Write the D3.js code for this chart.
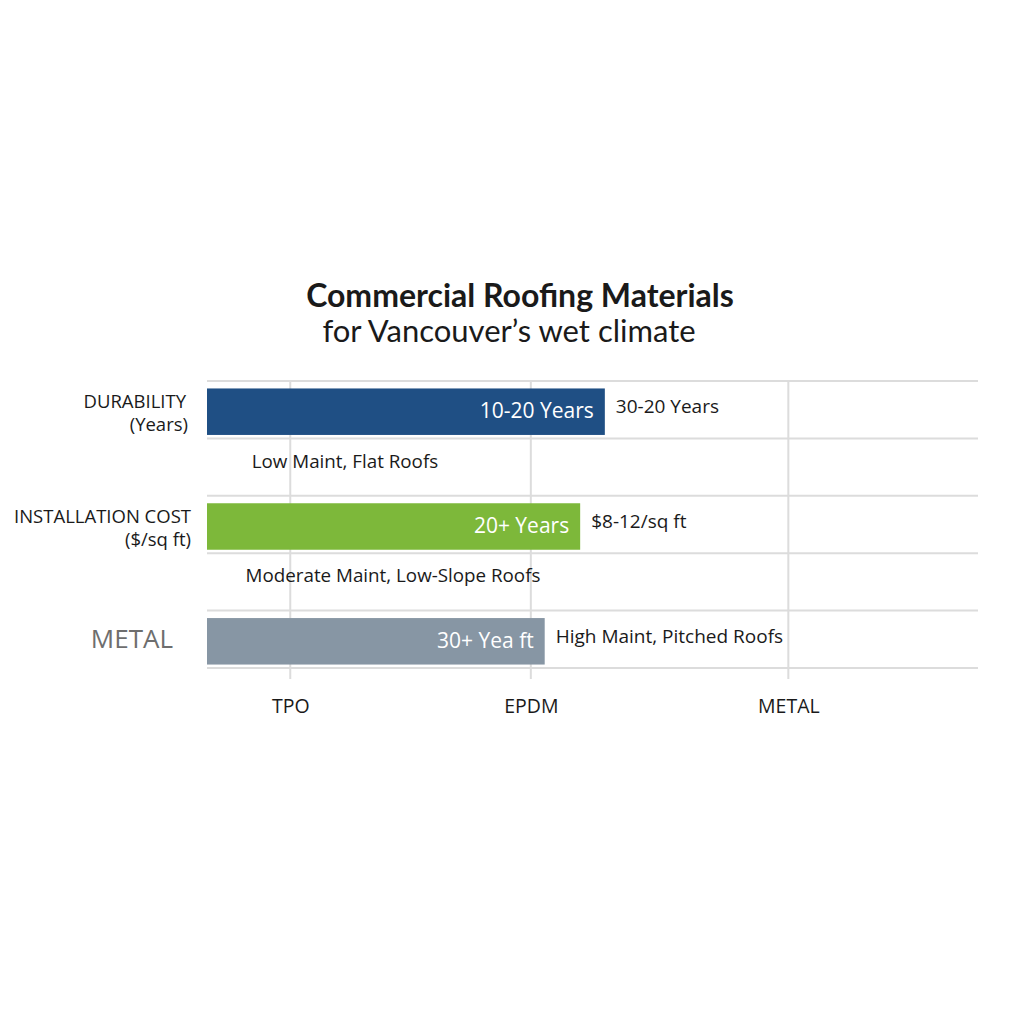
<!DOCTYPE html>
<html><head><meta charset="utf-8">
<script src="https://cdn.jsdelivr.net/npm/d3@7"></script>
<style>body{margin:0;background:#fff;} svg{display:block;}</style>
</head><body>
<svg id="c" width="1024" height="1024"></svg>
<script>
// Data
const rowKeys = ["durability", "note1", "cost", "note2", "metal"];
const barRows = ["durability", "cost", "metal"];
const barValues = [51.6, 48.4, 43.8];
const barColors = ["#1f4f84", "#7db83a", "#8796a4"];
const insideLabels = ["10-20 Years", "20+ Years", "30+ Yea ft"];
const outsideLabels = ["30-20 Years", "$8-12/sq ft", "High Maint, Pitched Roofs"];
const noteRows = ["note1", "note2"];
const noteLabels = ["Low Maint, Flat Roofs", "Moderate Maint, Low-Slope Roofs"];
const noteOffsets = [5.8, 5.0];
const tickLabels = ["TPO", "EPDM", "METAL"];
const tickValues = [10.8, 42.0, 75.4];

const svg = d3.select("#c");
const x = d3.scaleLinear().domain([0, 100]).range([207, 978]);
const y = d3.scaleBand().domain(rowKeys).range([381, 668]);
const bh = y.bandwidth() * 0.81;

// title
svg.append("text").attr("x", 520).attr("y", 307).attr("text-anchor", "middle")
  .attr("font-family", "Lato, 'Open Sans', sans-serif").attr("font-weight", 700)
  .attr("font-size", 32).attr("fill", "#1a1a1a").text("Commercial Roofing Materials");
svg.append("text").attr("x", 509).attr("y", 342).attr("text-anchor", "middle")
  .attr("font-family", "Lato, 'Open Sans', sans-serif")
  .attr("font-size", 31).attr("fill", "#1a1a1a").text("for Vancouver\u2019s wet climate");

// horizontal grid
const hLines = rowKeys.map(k => y(k)).concat([y.range()[1]]);
svg.append("g").selectAll("line").data(hLines).join("line")
  .attr("x1", x(0)).attr("x2", x(100)).attr("y1", d => d).attr("y2", d => d)
  .attr("stroke", "#dcdcdc").attr("stroke-width", 2);

// vertical grid
svg.append("g").selectAll("line").data(tickValues).join("line")
  .attr("x1", d => x(d)).attr("x2", d => x(d)).attr("y1", 381).attr("y2", 679)
  .attr("stroke", "#dcdcdc").attr("stroke-width", 2);

// bars
const bars = barRows.map((r, i) => ({r, v: barValues[i], c: barColors[i], inL: insideLabels[i], outL: outsideLabels[i]}));
svg.append("g").selectAll("rect").data(bars).join("rect")
  .attr("x", x(0)).attr("width", d => x(d.v) - x(0))
  .attr("y", d => y(d.r) + (y.bandwidth() - bh) / 2 + 2).attr("height", bh)
  .attr("fill", d => d.c);

const ff = "'Open Sans', 'Noto Sans', sans-serif";
svg.append("g").selectAll("text").data(bars).join("text")
  .attr("x", d => x(d.v) - 11).attr("y", d => y(d.r) + y.bandwidth() / 2 + 1)
  .attr("dy", "0.35em").attr("text-anchor", "end")
  .attr("font-family", ff).attr("font-size", 21).attr("fill", "#fff").text(d => d.inL);
svg.append("g").selectAll("text").data(bars).join("text")
  .attr("x", d => x(d.v) + 11).attr("y", d => y(d.r) + y.bandwidth() / 2 - 3)
  .attr("dy", "0.35em").attr("text-anchor", "start")
  .attr("font-family", ff).attr("font-size", 19).attr("fill", "#1a1a1a").text(d => d.outL);

// notes
svg.append("g").selectAll("text").data(noteRows).join("text")
  .attr("x", (d, i) => x(noteOffsets[i])).attr("y", d => y(d) + y.bandwidth() / 2 - 6)
  .attr("dy", "0.35em").attr("font-family", ff).attr("font-size", 18.8).attr("fill", "#1a1a1a")
  .text((d, i) => noteLabels[i]);

// row labels
const lab = svg.append("g").attr("font-family", ff).attr("fill", "#1a1a1a").attr("text-anchor", "end");
lab.append("text").attr("x", 186).attr("y", 408).attr("font-size", 18.5).text("DURABILITY");
lab.append("text").attr("x", 188).attr("y", 431).attr("font-size", 18.5).text("(Years)");
lab.append("text").attr("x", 191).attr("y", 523).attr("font-size", 18.5).text("INSTALLATION COST");
lab.append("text").attr("x", 191).attr("y", 546).attr("font-size", 18.5).text("($/sq ft)");
lab.append("text").attr("x", 173).attr("y", 648).attr("font-size", 26).attr("fill", "#6e6e6e").text("METAL");

// x axis labels
const xAxis = d3.axisBottom(x).tickValues(tickValues).tickFormat((d, i) => tickLabels[i]).tickSize(0).tickPadding(0);
const gx = svg.append("g").attr("transform", "translate(0,699)").call(xAxis);
gx.select(".domain").remove();
gx.selectAll("text").attr("font-family", ff).attr("font-size", 19.5).attr("fill", "#1a1a1a");
</script>
</body></html>
